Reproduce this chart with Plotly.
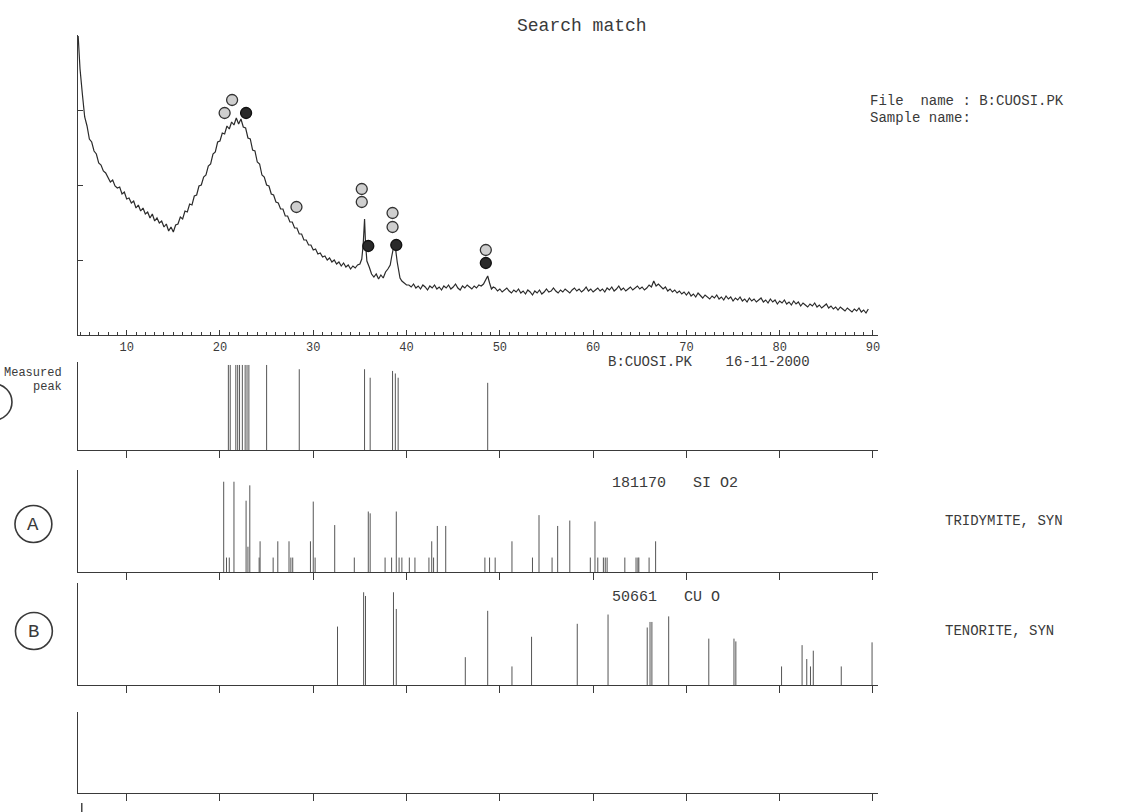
import plotly.graph_objects as go

W, H = 1123, 812

# ---------------- data ----------------
# measured scan: (2-theta, counts in arbitrary units)
scan = [
    (4.8, 299), (5.0, 266), (5.25, 241), (5.5, 218), (5.75, 209), (6.0, 196), (6.25, 193), (6.5, 184),
    (6.75, 181), (7.0, 172),
    (7.25, 170), (7.5, 164), (7.75, 162), (8.0, 158), (8.25, 153), (8.5, 155), (8.75, 149), (9.0, 147),
    (9.25, 148), (9.5, 141), (9.75, 143), (10.0, 136), (10.25, 137), (10.5, 132), (10.75, 134), (11.0, 127),
    (11.25, 130), (11.5, 124), (11.75, 127), (12.0, 121), (12.25, 123), (12.5, 117), (12.75, 121), (13.0, 114),
    (13.25, 117), (13.5, 112), (13.75, 114), (14.0, 108), (14.25, 111), (14.5, 104),
    (14.75, 108), (15.0, 103), (15.25, 110), (15.5, 111), (15.75, 118), (16.0, 116), (16.25, 124), (16.5, 123),
    (16.75, 131), (17.0, 130), (17.25, 139), (17.5, 140), (17.75, 149), (18.0, 150), (18.25, 158), (18.5, 160),
    (18.75, 169), (19.0, 171), (19.25, 181), (19.5, 183), (19.75, 193), (20.0, 194), (20.25, 202), (20.5, 201),
    (20.75, 209), (21.0, 206), (21.25, 213), (21.5, 210), (21.75, 217), (22.0, 211), (22.25, 216), (22.5, 208),
    (22.75, 207), (23.0, 197), (23.25, 196), (23.5, 185), (23.75, 184), (24.0, 173), (24.25, 171), (24.5, 160),
    (24.75, 158), (25.0, 150), (25.25, 149), (25.5, 141), (25.75, 140), (26.0, 133), (26.25, 132), (26.5, 126),
    (26.75, 126), (27.0, 119), (27.25, 119), (27.5, 113), (27.75, 113), (28.0, 107),
    (28.25, 107), (28.5, 101), (28.75, 101), (29.0, 95), (29.25, 95), (29.5, 90), (29.75, 90), (30.0, 85),
    (30.25, 86), (30.5, 81), (30.75, 82), (31.0, 78), (31.25, 79), (31.5, 75), (31.75, 77), (32.0, 73),
    (32.25, 75), (32.5, 71), (32.75, 73), (33.0, 69), (33.25, 72), (33.5, 68), (33.75, 70), (34.0, 66),
    (34.25, 69), (34.5, 67), (34.75, 70), (35.0, 71),
    (35.2, 76), (35.35, 90), (35.5, 116), (35.6, 92), (35.75, 74), (36.0, 68), (36.25, 61), (36.5, 58),
    (36.75, 61), (37.0, 56), (37.25, 60), (37.5, 57), (37.75, 63), (38.0, 66), (38.25, 70), (38.4, 78),
    (38.55, 85), (38.7, 87), (38.85, 84), (39.0, 73), (39.15, 63), (39.3, 57), (39.5, 54), (39.75, 52),
    (40.0, 50),
    (40.25, 50), (40.5, 48), (40.75, 51), (41.0, 47), (41.25, 49), (41.5, 46), (41.75, 50), (42.0, 48),
    (42.25, 45), (42.5, 49), (42.75, 47), (43.0, 50), (43.25, 46), (43.5, 48), (43.75, 45), (44.0, 49),
    (44.25, 47), (44.5, 50), (44.75, 46), (45.0, 48), (45.25, 51), (45.5, 47), (45.75, 45), (46.0, 49),
    (46.25, 47), (46.5, 50), (46.75, 48), (47.0, 46), (47.25, 49), (47.5, 47), (47.75, 50), (48.0, 49),
    (48.25, 51), (48.5, 56), (48.7, 59), (48.9, 52), (49.1, 46), (49.3, 48),
    (49.5, 47), (49.75, 44), (50.0, 46), (50.25, 43), (50.5, 45), (50.75, 47), (51.0, 44), (51.25, 42),
    (51.5, 45), (51.75, 43), (52.0, 46), (52.25, 42), (52.5, 44), (52.75, 41), (53.0, 45), (53.25, 43),
    (53.5, 40), (53.75, 44), (54.0, 42), (54.25, 45), (54.5, 41), (54.75, 43), (55.0, 46), (55.25, 43),
    (55.5, 44), (55.75, 47), (56.0, 44), (56.25, 42), (56.5, 45), (56.75, 43), (57.0, 46), (57.25, 44),
    (57.5, 42), (57.75, 45), (58.0, 47), (58.25, 44), (58.5, 46), (58.75, 43), (59.0, 45), (59.25, 48),
    (59.5, 44), (59.75, 46), (60.0, 43), (60.25, 45), (60.5, 47), (60.75, 44), (61.0, 46), (61.25, 43),
    (61.5, 47), (61.75, 45), (62.0, 48), (62.25, 44), (62.5, 46), (62.75, 49), (63.0, 45), (63.25, 47),
    (63.5, 44), (63.75, 46), (64.0, 48), (64.25, 45), (64.5, 47), (64.75, 49), (65.0, 46), (65.25, 48),
    (65.5, 45), (65.75, 47), (66.0, 50), (66.25, 48), (66.5, 54), (66.75, 49), (67.0, 51), (67.25, 48),
    (67.5, 46), (67.75, 48), (68.0, 44), (68.25, 46), (68.5, 43), (68.75, 45), (69.0, 42), (69.25, 44),
    (69.5, 41), (69.75, 43), (70.0, 40), (70.25, 43), (70.5, 39), (70.75, 41), (71.0, 38), (71.25, 42),
    (71.5, 39), (71.75, 37), (72.0, 40), (72.25, 38), (72.5, 36), (72.75, 39), (73.0, 37), (73.25, 40),
    (73.5, 36), (73.75, 38), (74.0, 35), (74.25, 39), (74.5, 36), (74.75, 38), (75.0, 34), (75.25, 37),
    (75.5, 35), (75.75, 38), (76.0, 34), (76.25, 36), (76.5, 33), (76.75, 37), (77.0, 34), (77.25, 36),
    (77.5, 33), (77.75, 35), (78.0, 37), (78.25, 33), (78.5, 35), (78.75, 32), (79.0, 36), (79.25, 33),
    (79.5, 35), (79.75, 31), (80.0, 34), (80.25, 32), (80.5, 35), (80.75, 31), (81.0, 33), (81.25, 30),
    (81.5, 34), (81.75, 31), (82.0, 33), (82.25, 29), (82.5, 32), (82.75, 30), (83.0, 28), (83.25, 31),
    (83.5, 29), (83.75, 32), (84.0, 28), (84.25, 30), (84.5, 27), (84.75, 29), (85.0, 31), (85.25, 27),
    (85.5, 29), (85.75, 26), (86.0, 28), (86.25, 25), (86.5, 28), (86.75, 26), (87.0, 24), (87.25, 27),
    (87.5, 25), (87.75, 23), (88.0, 26), (88.25, 24), (88.5, 27), (88.75, 23), (89.0, 25), (89.25, 22),
    (89.5, 26),
]
scan_2theta = [p[0] for p in scan]
scan_counts = [p[1] for p in scan]

# identified-peak markers on the scan
open_mark_2theta = [20.5, 21.3, 28.2, 35.2, 35.2, 38.5, 38.5, 48.5]
open_mark_y = [222, 235, 128, 146, 133, 122, 108, 85]
dark_mark_2theta = [22.8, 35.9, 38.9, 48.5]
dark_mark_y = [222, 89, 90, 72]

# measured peak list
measured_2theta = [20.9, 21.1, 21.7, 21.9, 22.1, 22.4, 22.7, 22.9, 23.1, 25.0, 28.5, 35.5, 36.1, 38.5, 38.8, 39.1, 48.7]
measured_int = [100, 100, 100, 100, 100, 100, 100, 100, 100, 100, 95, 95, 85, 93, 90, 85, 79]

# A : 18-1170 SiO2 tridymite, syn
tri_2theta = [20.4, 20.7, 21.0, 21.5, 22.8, 23.0, 23.2, 24.2, 24.3, 25.7, 26.2, 27.4, 27.6, 27.8, 29.7, 30.0,
              30.2, 32.3, 34.4, 35.9, 36.1, 37.7, 38.4, 38.9, 39.2, 39.5, 40.3, 40.9, 42.4, 42.7, 42.9, 43.3,
              44.2, 48.4, 48.9, 49.5, 51.3, 53.5, 54.2, 55.6, 56.2, 57.5, 59.7, 60.2, 60.5, 61.1, 61.3, 61.5,
              63.4, 64.6, 64.8, 64.9, 66.0, 66.7]
tri_int = [100, 16, 16, 100, 79, 28, 96, 16, 34, 16, 34, 34, 16, 16, 34, 78,
           16, 52, 16, 67, 65, 16, 16, 67, 16, 16, 16, 16, 16, 34, 16, 51,
           51, 16, 16, 16, 34, 16, 63, 16, 51, 57, 16, 56, 16, 16, 16, 16,
           16, 16, 16, 16, 16, 34]

# B : 5-661 CuO tenorite, syn
ten_2theta = [32.6, 35.4, 35.6, 38.6, 38.9, 46.3, 48.7, 51.3, 53.4, 58.3, 61.6, 65.8, 66.1, 66.3, 68.1, 72.4,
              75.1, 75.3, 80.2, 82.4, 82.9, 83.3, 83.6, 86.6, 89.9]
ten_int = [63, 100, 96, 100, 82, 30, 80, 20, 52, 66, 76, 62, 68, 68, 74, 50,
           50, 47, 20, 43, 28, 20, 37, 20, 46]

x_tick_labels = ["10", "20", "30", "40", "50", "60", "70", "80", "90"]

# ---------------- figure ----------------
INK = "#3a3a3a"
STICK = "#555555"
MONO = "Liberation Mono"


def sticks(pos, val):
    xs, ys = [], []
    for p, v in zip(pos, val):
        xs += [p, p, None]
        ys += [0, v, None]
    return xs, ys


def ydom(top_px, bottom_px):
    return [1 - bottom_px / H, 1 - top_px / H]


fig = go.Figure()

fig.add_trace(go.Scatter(x=scan_2theta, y=scan_counts, mode="lines",
                         line=dict(color="#2b2b2b", width=1.2), xaxis="x", yaxis="y",
                         showlegend=False, hoverinfo="skip"))
fig.add_trace(go.Scatter(x=open_mark_2theta, y=open_mark_y, mode="markers",
                         marker=dict(symbol="circle", size=11, color="#cfcfcf",
                                     line=dict(color="#333333", width=1.3)),
                         xaxis="x", yaxis="y", showlegend=False))
fig.add_trace(go.Scatter(x=dark_mark_2theta, y=dark_mark_y, mode="markers",
                         marker=dict(symbol="circle", size=11, color="#2a2a2a",
                                     line=dict(color="#111111", width=1.3)),
                         xaxis="x", yaxis="y", showlegend=False))

for (pos, val, xa, ya) in [(measured_2theta, measured_int, "x2", "y2"),
                           (tri_2theta, tri_int, "x3", "y3"),
                           (ten_2theta, ten_int, "x4", "y4")]:
    sx, sy = sticks(pos, val)
    fig.add_trace(go.Scatter(x=sx, y=sy, mode="lines", line=dict(color=STICK, width=1),
                             xaxis=xa, yaxis=ya, showlegend=False, hoverinfo="skip"))
fig.add_trace(go.Scatter(x=[None], y=[None], mode="lines", xaxis="x5", yaxis="y5", showlegend=False))

xdom = [78 / W, 880 / W]
xrange_ = [4.76, 90.5]

base_x = dict(domain=xdom, range=xrange_, showgrid=False, zeroline=False, showline=True,
              linecolor=INK, linewidth=1.4)
base_y = dict(showgrid=False, zeroline=False, showline=True, linecolor=INK, linewidth=1.4,
              showticklabels=False, ticks="")

layout = dict(
    width=W, height=H, margin=dict(l=0, r=0, t=0, b=0),
    paper_bgcolor="white", plot_bgcolor="white", showlegend=False,
    xaxis=dict(base_x, anchor="y", tickmode="array", tickvals=[10, 20, 30, 40, 50, 60, 70, 80, 90],
               ticktext=x_tick_labels, ticks="inside", ticklen=5, tickcolor=INK,
               tickfont=dict(family=MONO, size=12, color=INK),
               minor=dict(tickmode="linear", tick0=0, dtick=1, ticks="inside", ticklen=3, tickcolor=INK)),
    yaxis=dict(base_y, domain=ydom(35, 335), range=[0, 300], anchor="x",
               tickmode="array", tickvals=[75, 150, 225], ticks="inside", ticklen=5, tickcolor=INK),
)
panels = [("2", (362, 450), 103.5), ("3", (470, 572), 113), ("4", (583, 685), 110), ("5", (712, 793), 100)]
for n, (t, b), top in panels:
    layout["xaxis" + n] = dict(base_x, anchor="y" + n, tickmode="linear", tick0=0, dtick=10,
                               ticks="outside", ticklen=7, tickcolor=INK, showticklabels=False)
    layout["yaxis" + n] = dict(base_y, domain=ydom(t, b), range=[0, top], anchor="x" + n)

fig.update_layout(**layout)


def ann(text, xpx, ypx, size=14, xanchor="left", color=INK, family=MONO):
    fig.add_annotation(text=text, x=xpx / W, y=1 - ypx / H, xref="paper", yref="paper",
                       xanchor=xanchor, yanchor="middle", showarrow=False,
                       font=dict(family=family, size=size, color=color))


ann("Search match", 584, 26, size=18, xanchor="center")
ann("File  name : B:CUOSI.PK", 870, 101, size=14)
ann("Sample name:", 870, 118, size=14)
ann("B:CUOSI.PK    16-11-2000", 608, 362, size=14)
ann("Measured", 64, 373, size=12, xanchor="right")
ann("peak", 64, 387, size=12, xanchor="right")
ann("181170   SI O2", 612, 483, size=15)
ann("TRIDYMITE, SYN", 946, 521, size=14)
ann("50661   CU O", 612, 597, size=15)
ann("TENORITE, SYN", 946, 631, size=14)
ann("A", 33.5, 525, size=19, xanchor="center")
ann("B", 34, 632, size=19, xanchor="center")


def circle_px(cx, cy, r):
    fig.add_shape(type="circle", xref="paper", yref="paper",
                  x0=(cx - r) / W, x1=(cx + r) / W, y0=1 - (cy + r) / H, y1=1 - (cy - r) / H,
                  line=dict(color=INK, width=1.6))


circle_px(33.5, 524, 18.5)
circle_px(34, 631, 18.5)
circle_px(-6, 402, 18)

fig.add_shape(type="line", xref="paper", yref="paper", x0=82 / W, x1=82 / W,
              y0=0, y1=1 - 803 / H, line=dict(color=INK, width=1.4))

fig.write_html("out.html")
